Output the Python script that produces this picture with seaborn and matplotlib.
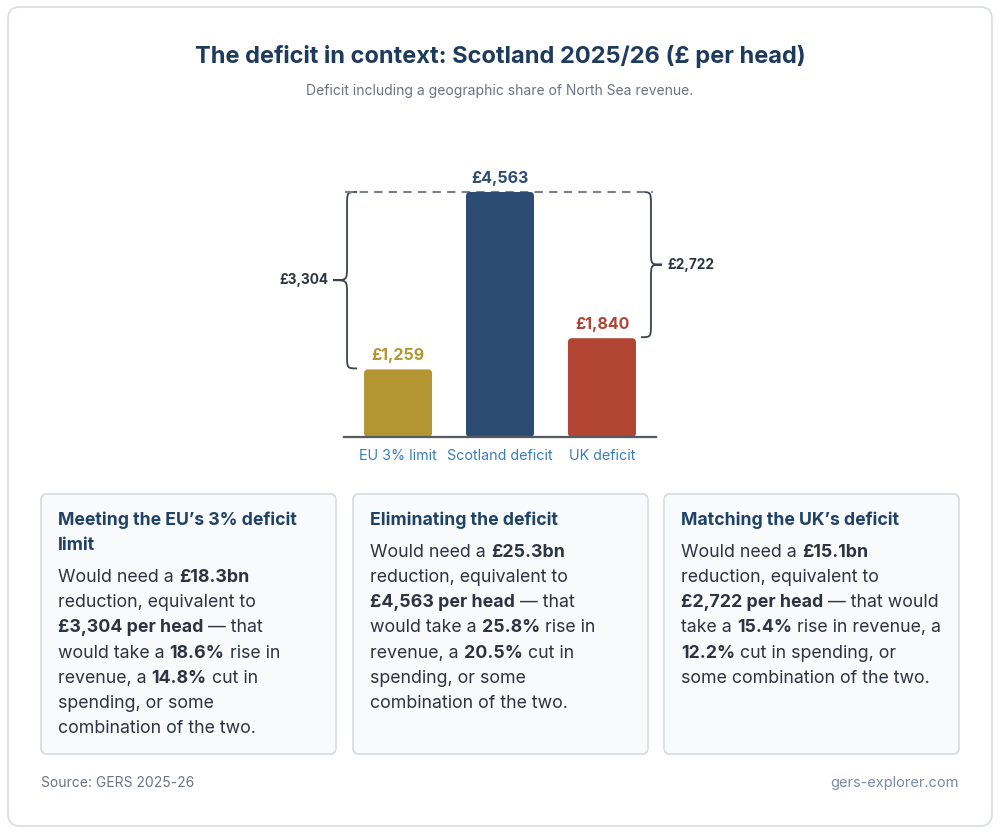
import matplotlib
matplotlib.use("Agg")
import matplotlib.pyplot as plt
import seaborn as sns
from matplotlib.patches import FancyBboxPatch, PathPatch
from matplotlib.path import Path

# ---------------- data ----------------
categories = ["EU 3% limit", "Scotland deficit", "UK deficit"]
per_head = [1259, 4563, 1840]
bar_colors = ["#b39632", "#2c4c74", "#b24434"]
value_labels = ["£1,259", "£4,563", "£1,840"]
gap_labels = ["£3,304", "£2,722"]   # Scotland minus EU limit, Scotland minus UK

title = "The deficit in context: Scotland 2025/26 (£ per head)"
subtitle = "Deficit including a geographic share of North Sea revenue."
source_text = "Source: GERS 2025-26"
site_text = "gers-explorer.com"

box_titles = [
    ["Meeting the EU’s 3% deficit", "limit"],
    ["Eliminating the deficit"],
    ["Matching the UK’s deficit"],
]
box_lines = [
    [
        [("Would need a ", False), ("£18.3bn", True)],
        [("reduction, equivalent to", False)],
        [("£3,304 per head", True), (" — that", False)],
        [("would take a ", False), ("18.6%", True), (" rise in", False)],
        [("revenue, a ", False), ("14.8%", True), (" cut in", False)],
        [("spending, or some", False)],
        [("combination of the two.", False)],
    ],
    [
        [("Would need a ", False), ("£25.3bn", True)],
        [("reduction, equivalent to", False)],
        [("£4,563 per head", True), (" — that", False)],
        [("would take a ", False), ("25.8%", True), (" rise in", False)],
        [("revenue, a ", False), ("20.5%", True), (" cut in", False)],
        [("spending, or some", False)],
        [("combination of the two.", False)],
    ],
    [
        [("Would need a ", False), ("£15.1bn", True)],
        [("reduction, equivalent to", False)],
        [("£2,722 per head", True), (" — that would", False)],
        [("take a ", False), ("15.4%", True), (" rise in revenue, a", False)],
        [("12.2%", True), (" cut in spending, or", False)],
        [("some combination of the two.", False)],
    ],
]

# ---------------- style ----------------
sns.set_theme(style="white")
plt.rcParams['font.family'] = ['Inter', 'DejaVu Sans']

W, H = 1000, 831
fig = plt.figure(figsize=(W / 100, H / 100), dpi=100)
fig.patch.set_facecolor("white")

ov = fig.add_axes([0, 0, 1, 1])
ov.set_xlim(0, W)
ov.set_ylim(H, 0)
ov.axis("off")

# outer card
ov.add_patch(FancyBboxPatch((8, 7), 984, 819, boxstyle="round,pad=0,rounding_size=12",
                            fc="white", ec="#d9dee3", lw=1.2, zorder=0))

ov.text(500, 57, title, ha="center", va="center", fontsize=17, fontweight="bold", color="#1e3a5c")
ov.text(500, 91, subtitle, ha="center", va="center", fontsize=10, color="#6b7280")

# ---------------- bar chart ----------------
ax_left, ax_right, base_px, top_px = 344, 656, 437, 150
ax = fig.add_axes([ax_left / W, (H - base_px) / H, (ax_right - ax_left) / W, (base_px - top_px) / H])
ax.set_facecolor("none")
px_per_y = 245 / 4563.0
ymax = (base_px - top_px) / px_per_y
xlo, xhi = -0.53, 2.53
px_per_x = (ax_right - ax_left) / (xhi - xlo)

sns.barplot(x=categories, y=per_head, hue=categories, palette=bar_colors, width=0.667,
            saturation=1, legend=False, ax=ax)
ax.set_xlim(xlo, xhi)
ax.set_ylim(0, ymax)

r_px = 4
rs = r_px / px_per_x
asp = (r_px / px_per_y) / rs
for p in list(ax.patches):
    x, y, w, h = p.get_x(), p.get_y(), p.get_width(), p.get_height()
    fc = p.get_facecolor()
    p.remove()
    ax.add_patch(FancyBboxPatch((x, y), w, h, boxstyle=f"round,pad=0,rounding_size={rs}",
                                mutation_aspect=asp, fc=fc, ec="none", zorder=2))

for s in ["top", "right", "left"]:
    ax.spines[s].set_visible(False)
ax.spines["bottom"].set_color("#545b64")
ax.spines["bottom"].set_linewidth(1.6)
ax.spines["bottom"].set_zorder(3)
ax.set_yticks([])
ax.set_xlabel("")
ax.set_ylabel("")
ax.tick_params(axis="x", length=0, pad=8.5, labelsize=10.3, labelcolor="#3a7cc0")

top_val = max(per_head)
ax.plot([xlo + 0.01, xhi - 0.03], [top_val, top_val], color="#7b8088", lw=1.5,
        dashes=(4, 3), zorder=1, clip_on=False)

for i, (v, lab, c) in enumerate(zip(per_head, value_labels, bar_colors)):
    ax.annotate(lab, (i, v), xytext=(0, 4.5), textcoords="offset points", ha="center",
                va="bottom", fontsize=11.5, fontweight="bold", color=c)

# braces (computed from data positions)
fig.canvas.draw()
def to_px(x, y):
    dx, dy = ax.transData.transform((x, y))
    return dx, H - dy

def brace(x_end, x_spine, x_tip, y_top, y_bot):
    ym = (y_top + y_bot) / 2
    r = 14
    verts = [(x_end, y_top),
             (x_spine, y_top), (x_spine, y_top), (x_spine, y_top + r),
             (x_spine, ym - r),
             (x_spine, ym), (x_spine, ym), (x_tip, ym),
             (x_spine, ym), (x_spine, ym), (x_spine, ym + r),
             (x_spine, y_bot - r),
             (x_spine, y_bot), (x_spine, y_bot), (x_end, y_bot)]
    codes = [Path.MOVETO, Path.CURVE4, Path.CURVE4, Path.CURVE4, Path.LINETO,
             Path.CURVE4, Path.CURVE4, Path.CURVE4,
             Path.CURVE4, Path.CURVE4, Path.CURVE4, Path.LINETO,
             Path.CURVE4, Path.CURVE4, Path.CURVE4]
    ov.add_patch(PathPatch(Path(verts, codes), fc="none", ec="#3b4250", lw=1.3, zorder=5))
    return ym

bars = sorted([p for p in ax.patches], key=lambda p: p.get_x())
_, ytop = to_px(0, per_head[1])
_, yeu = to_px(0, per_head[0])
_, yuk = to_px(0, per_head[2])
xl_edge, _ = to_px(bars[0].get_x(), 0)
xr_edge, _ = to_px(bars[2].get_x() + bars[2].get_width(), 0)

ym = brace(xl_edge - 7, xl_edge - 17, xl_edge - 31, ytop, yeu - 1)
ov.text(xl_edge - 36, ym, gap_labels[0], ha="right", va="center", fontsize=9.8,
        fontweight="bold", color="#2d3340")
ym = brace(xr_edge + 5, xr_edge + 15, xr_edge + 26, ytop, yuk - 1)
ov.text(xr_edge + 31, ym, gap_labels[1], ha="left", va="center", fontsize=9.8,
        fontweight="bold", color="#2d3340")

# ---------------- info boxes ----------------
renderer = fig.canvas.get_renderer()
body_fs = 12.8
title_fs = 12.7

def tw(s, bold):
    t = ov.text(0, 0, s, fontsize=body_fs, fontweight="bold" if bold else "normal")
    w = t.get_window_extent(renderer).width
    t.remove()
    return w

sp_w = {b: tw("x x", b) - tw("xx", b) for b in (False, True)}

box_x = [41, 353, 664]
box_w = 295
box_y0, box_y1 = 494, 754
line_h = 25.2
for bx, titles, lines in zip(box_x, box_titles, box_lines):
    ov.add_patch(FancyBboxPatch((bx, box_y0), box_w, box_y1 - box_y0,
                                boxstyle="round,pad=0,rounding_size=6",
                                fc="#f8fafc", ec="#d6dbe0", lw=1.2, zorder=1))
    y = 520
    for tl in titles:
        ov.text(bx + 17, y, tl, ha="left", va="center", fontsize=title_fs,
                fontweight="bold", color="#1f4266", zorder=3)
        y += line_h
    y += 7
    for segs in lines:
        x = bx + 17
        for seg, bold in segs:
            lead = len(seg) - len(seg.lstrip(" "))
            trail = len(seg) - len(seg.rstrip(" "))
            core = seg.strip(" ")
            x += lead * sp_w[bold]
            t = ov.text(x, y, core, ha="left", va="center", fontsize=body_fs,
                        fontweight="bold" if bold else "normal", color="#2d3340", zorder=3)
            x += t.get_window_extent(renderer).width
            x += trail * sp_w[bold]
        y += line_h

# ---------------- footer ----------------
ov.text(41, 783, source_text, ha="left", va="center", fontsize=10, color="#6b7280")
ov.text(959, 783, site_text, ha="right", va="center", fontsize=10.5, color="#7b8ba3")

fig.savefig("out.png", dpi=100, facecolor="white")
